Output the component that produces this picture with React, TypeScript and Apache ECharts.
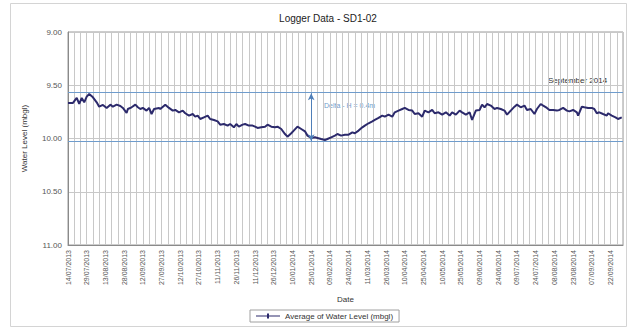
import React, { useEffect, useRef } from "react";
import * as echarts from "echarts";

const tickLabels = [
  "14/07/2013", "29/07/2013", "13/08/2013", "28/08/2013", "12/09/2013", "27/09/2013",
  "12/10/2013", "27/10/2013", "11/11/2013", "26/11/2013", "11/12/2013", "26/12/2013",
  "10/01/2014", "25/01/2014", "09/02/2014", "24/02/2014", "11/03/2014", "26/03/2014",
  "10/04/2014", "25/04/2014", "10/05/2014", "25/05/2014", "09/06/2014", "24/06/2014",
  "09/07/2014", "24/07/2014", "08/08/2014", "23/08/2014", "07/09/2014", "22/09/2014",
];

// days since 14/07/2013
const dayOffsets = [
  0, 4, 7, 9, 11, 13, 15, 17, 20, 23, 25, 28, 31, 34, 36, 39, 42, 44, 47, 48, 51, 54, 56, 58, 60, 63, 65, 67, 69, 73,
  74, 78, 81, 84, 86, 89, 92, 94, 97, 100, 102, 104, 106, 109, 112, 114, 117, 120, 122, 125, 128, 130, 133, 135, 137, 140, 142, 145, 148,
  150, 152, 155, 158, 160, 163, 166, 168, 171, 174, 176, 179, 181, 184, 187, 190, 192, 195, 198, 200, 203, 206, 208, 211, 214, 216, 219, 222,
  225, 228, 230, 233, 236, 238, 241, 244, 246, 249, 252, 254, 257, 260, 262, 265, 268, 270, 273, 276, 278, 281, 284, 286, 289, 292, 294, 297, 300,
  303, 306, 308, 311, 314, 316, 319, 322, 324, 327, 330, 332, 334, 336, 339, 342, 344, 347, 350, 352, 355, 358, 360, 363, 366, 368, 371, 374,
  376, 379, 381, 384, 386, 389, 392, 394, 397, 400, 402, 405, 408, 409, 412, 414, 417, 420, 422, 424, 426, 429, 432, 433, 436, 439, 441, 444,
];

const waterLevel = [
  9.666, 9.666, 9.619, 9.676, 9.619, 9.66, 9.607, 9.582, 9.613, 9.66, 9.701, 9.685, 9.713, 9.682, 9.701, 9.682, 9.695, 9.713, 9.76, 9.723, 9.707, 9.682, 9.707, 9.723, 9.713, 9.738, 9.713, 9.77, 9.723, 9.713,
  9.723, 9.682, 9.713, 9.738, 9.732, 9.754, 9.738, 9.763, 9.785, 9.77, 9.795, 9.785, 9.817, 9.801, 9.785, 9.817, 9.826, 9.839, 9.87, 9.864, 9.879, 9.864, 9.895, 9.864, 9.889, 9.87, 9.864, 9.879, 9.879,
  9.889, 9.901, 9.895, 9.889, 9.87, 9.889, 9.895, 9.889, 9.911, 9.958, 9.983, 9.951, 9.926, 9.889, 9.911, 9.933, 9.973, 9.995, 9.989, 9.995, 10.005, 10.014, 10.005, 9.989, 9.973, 9.958, 9.973, 9.964,
  9.964, 9.942, 9.951, 9.926, 9.895, 9.879, 9.857, 9.839, 9.826, 9.807, 9.785, 9.795, 9.776, 9.795, 9.754, 9.738, 9.723, 9.713, 9.732, 9.738, 9.77, 9.763, 9.795, 9.738, 9.754, 9.732, 9.763, 9.754, 9.776,
  9.754, 9.785, 9.754, 9.776, 9.738, 9.754, 9.776, 9.754, 9.826, 9.738, 9.732, 9.682, 9.707, 9.676, 9.691, 9.723, 9.713, 9.723, 9.738, 9.776, 9.738, 9.701, 9.682, 9.707, 9.691, 9.732, 9.723, 9.77,
  9.723, 9.676, 9.691, 9.713, 9.732, 9.732, 9.738, 9.732, 9.713, 9.738, 9.745, 9.732, 9.754, 9.785, 9.701, 9.707, 9.713, 9.713, 9.723, 9.763, 9.754, 9.77, 9.785, 9.763, 9.785, 9.801, 9.817, 9.801,
];

const deltaTop = 9.575;
const deltaBottom = 10.025;
const deltaDay = 195;

export default function App() {
  const ref = useRef<HTMLDivElement>(null);
  useEffect(() => {
    if (!ref.current) return;
    const chart = echarts.init(ref.current, undefined, { renderer: "svg" });
    const data = dayOffsets.map((d, i) => [d, waterLevel[i]]);
    const font = "'Liberation Sans', Arial, sans-serif";
    chart.setOption({
      animation: false,
      backgroundColor: "#ffffff",
      textStyle: { fontFamily: font },
      title: {
        text: "Logger Data - SD1-02",
        left: 323,
        textAlign: "center",
        top: 8,
        textStyle: { fontSize: 10, fontWeight: "normal", color: "#222", fontFamily: font },
      },
      grid: {
        left: 68,
        right: 6,
        top: 32,
        bottom: 84,
        show: true,
        borderColor: "#9a9a9a",
        borderWidth: 1,
        containLabel: false,
      },
      legend: {
        left: 250,
        top: 310,
        itemWidth: 24,
        itemHeight: 8,
        itemGap: 4,
        padding: [2, 6, 2, 6],
        borderColor: "#a0a0a0",
        borderWidth: 1,
        textStyle: { fontSize: 8, color: "#333", fontFamily: font },
        data: [{ name: "Average of Water Level (mbgl)", icon: "path://M0,4 L24,4 L24,5 L0,5 Z M11,2 L13,2 L13,7 L11,7 Z" }],
      },
      xAxis: {
        type: "value",
        min: 0,
        max: 445,
        interval: 15,
        name: "Date",
        nameLocation: "middle",
        nameGap: 50,
        nameTextStyle: { fontSize: 8, color: "#333" },
        axisLine: { show: true, lineStyle: { color: "#8a8a8a" } },
        axisTick: { show: false },
        minorTick: { show: false, splitNumber: 3 },
        splitLine: { show: true, lineStyle: { color: "#c8c8c8", width: 1 } },
        minorSplitLine: { show: true, lineStyle: { color: "#c8c8c8", width: 1 } },
        axisLabel: {
          rotate: 90,
          fontSize: 7,
          color: "#555",
          margin: 5,
          showMaxLabel: false,
          formatter: (v: number) => tickLabels[Math.round(v / 15)] ?? "",
        },
      },
      yAxis: {
        type: "value",
        inverse: true,
        min: 9,
        max: 11,
        interval: 0.5,
        name: "Water Level (mbgl)",
        nameLocation: "middle",
        nameGap: 40,
        nameTextStyle: { fontSize: 8, color: "#333" },
        axisLine: { show: true, lineStyle: { color: "#8a8a8a" } },
        axisTick: { show: false },
        splitLine: { show: true, lineStyle: { color: "#c8c8c8", width: 1 } },
        axisLabel: {
          fontSize: 8,
          color: "#555",
          margin: 6,
          formatter: (v: number) => v.toFixed(2),
        },
      },
      series: [
        {
          name: "Average of Water Level (mbgl)",
          type: "line",
          data,
          showSymbol: false,
          symbol: "none",
          lineStyle: { color: "#2c2a6c", width: 2 },
          itemStyle: { color: "#2c2a6c" },
          markLine: {
            silent: true,
            symbol: ["none", "none"],
            label: { show: false },
            data: [
              { yAxis: deltaTop, lineStyle: { color: "#6f9ccc", width: 1, type: "solid" } },
              { yAxis: deltaBottom, lineStyle: { color: "#6f9ccc", width: 1, type: "solid" } },
              [
                { coord: [deltaDay, deltaBottom], symbol: "arrow", symbolSize: [5, 7] },
                { coord: [deltaDay, deltaTop], symbol: "arrow", symbolSize: [5, 7], lineStyle: { color: "#4f7fb8", width: 1, type: "solid" } },
              ],
            ],
          },
        },
      ],
      graphic: [
        {
          type: "rect",
          shape: { x: 10.5, y: 3.5, width: 616, height: 323 },
          style: { fill: "none", stroke: "#d4d4d4", lineWidth: 1 },
          silent: true,
        },
        {
          type: "text",
          x: 548,
          y: 76,
          style: { text: "September 2014", fontSize: 8, fill: "#333", fontFamily: font },
        },
        {
          type: "text",
          x: 324,
          y: 102,
          style: { text: "Delta - H = 0.4m", fontSize: 7, fill: "#6f9ccc", fontFamily: font },
        },
      ],
    });
    return () => chart.dispose();
  }, []);
  return <div ref={ref} style={{ position: "fixed", left: 0, top: 0, width: 629, height: 329 }} />;
}
